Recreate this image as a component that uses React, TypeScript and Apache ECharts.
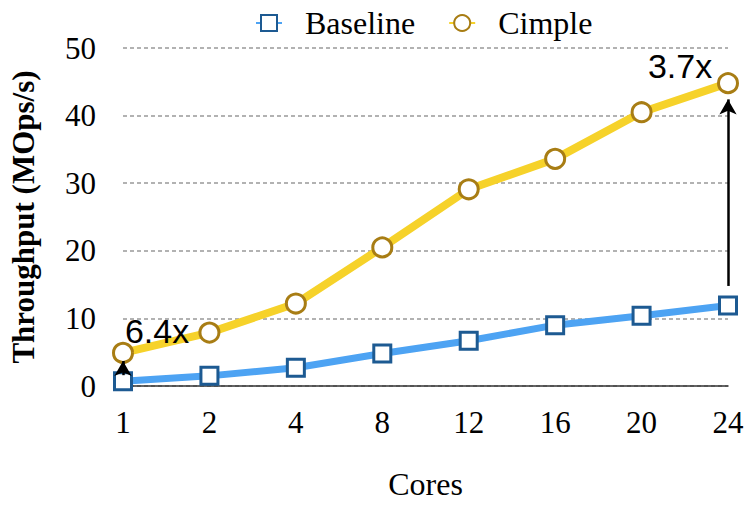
import React, { useEffect, useRef } from "react";
import * as echarts from "echarts";

const categories = ["1", "2", "4", "8", "12", "16", "20", "24"];
const baselineValues = [0.7, 1.5, 2.7, 4.8, 6.7, 9.0, 10.4, 11.9];
const cimpleValues = [4.9, 7.9, 12.2, 20.5, 29.1, 33.6, 40.5, 44.8];
const yTicks = { min: 0, max: 50, interval: 10 };
const annotations = [
  { text: "6.4x", x: "1", y: 8.2, arrowFrom: 1.6, arrowTo: 3.7, dx: 34 },
  { text: "3.7x", x: "24", y: 47.4, arrowFrom: 14.8, arrowTo: 42.4, dx: -48 },
];

const serif = "Liberation Serif";

export default function App() {
  const ref = useRef<HTMLDivElement>(null);
  useEffect(() => {
    if (!ref.current) return;
    const chart = echarts.init(ref.current, null, { renderer: "svg" });
    chart.setOption({
      animation: false,
      backgroundColor: "#fff",
      grid: { left: 120, right: 19, top: 48, bottom: 117, containLabel: false },
      legend: {
        left: 250,
        top: 2,
        itemWidth: 26,
        itemHeight: 20,
        itemGap: 33,
        textStyle: { fontFamily: serif, fontSize: 32, color: "#000", padding: [0, 0, 0, 18] },
        data: ["Baseline", "Cimple"],
      },
      xAxis: {
        type: "category",
        data: categories,
        boundaryGap: false,
        axisTick: { show: false },
        axisLine: { lineStyle: { color: "#333", width: 1.5 } },
        axisLabel: { fontFamily: serif, fontSize: 31, color: "#000", margin: 21 },
        name: "Cores",
        nameLocation: "middle",
        nameGap: 82,
        nameTextStyle: { fontFamily: serif, fontSize: 32, color: "#000" },
      },
      yAxis: {
        type: "value",
        min: yTicks.min,
        max: yTicks.max,
        interval: yTicks.interval,
        axisLine: { show: false },
        axisTick: { show: false },
        axisLabel: { fontFamily: serif, fontSize: 31, color: "#000", margin: 27 },
        splitLine: { lineStyle: { color: "#999", width: 1.5, type: [4, 3] } },
        name: "Throughput (MOps/s)",
        nameLocation: "middle",
        nameGap: 84,
        nameTextStyle: { fontFamily: serif, fontSize: 31, fontWeight: "bold", color: "#000" },
      },
      series: [
        {
          name: "Baseline",
          type: "line",
          data: baselineValues,
          symbol: "rect",
          symbolSize: 17,
          z: 3,
          lineStyle: { color: "#4DA3F3", width: 7 },
          itemStyle: { color: "#fff", borderColor: "#1D5A92", borderWidth: 3 },
        },
        {
          name: "Cimple",
          type: "line",
          data: cimpleValues,
          symbol: "circle",
          symbolSize: 19,
          z: 3,
          lineStyle: { color: "#F6D22A", width: 8 },
          itemStyle: { color: "#fff", borderColor: "#A87D14", borderWidth: 3 },
          markLine: {
            silent: true,
            symbol: ["none", "arrow"],
            symbolSize: [13, 15],
            label: { show: false },
            lineStyle: { color: "#000", width: 2.5, type: "solid" },
            data: annotations.map((a) => [
              { coord: [a.x, a.arrowFrom] },
              { coord: [a.x, a.arrowTo] },
            ]),
          },
          markPoint: {
            silent: true,
            symbol: "circle",
            symbolSize: 1,
            itemStyle: { color: "rgba(0,0,0,0)" },
            label: {
              show: true,
              position: "inside",
              fontFamily: "Liberation Sans",
              fontSize: 34,
              color: "#000",
            },
            data: annotations.map((a) => ({
              coord: [a.x, a.y],
              label: { formatter: a.text, offset: [a.dx, 0] },
            })),
          },
        },
      ],
    });
    return () => chart.dispose();
  }, []);
  return <div ref={ref} style={{ width: 747, height: 505, position: "absolute", left: 0, top: 0 }} />;
}
